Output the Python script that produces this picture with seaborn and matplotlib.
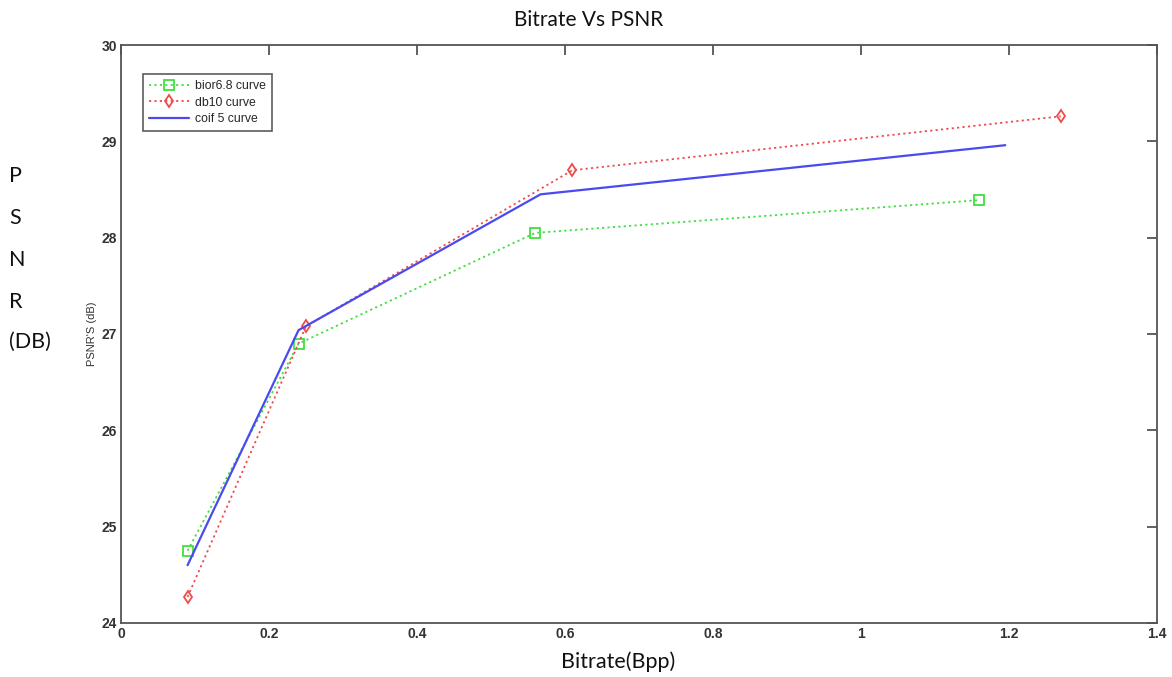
import pandas as pd
import matplotlib
matplotlib.use("Agg")
import matplotlib.pyplot as plt
import seaborn as sns

# values
bior_x = [0.09, 0.24, 0.56, 1.16]
bior_y = [24.75, 26.90, 28.05, 28.39]
db10_x = [0.09, 0.25, 0.61, 1.27]
db10_y = [24.27, 27.08, 28.70, 29.26]
coif_x = [0.09, 0.24, 0.567, 1.195]
coif_y = [24.60, 27.04, 28.45, 28.96]

x_ticks = [0, 0.2, 0.4, 0.6, 0.8, 1, 1.2, 1.4]
x_tick_labels = ["0", "0.2", "0.4", "0.6", "0.8", "1", "1.2", "1.4"]
y_ticks = [24, 25, 26, 27, 28, 29, 30]

sns.set_style("white")
plt.rcParams['font.family'] = ['Liberation Sans', 'DejaVu Sans']

fig = plt.figure(figsize=(11.72, 6.77), dpi=100)
ax = fig.add_axes([0.1032, 0.0798, 0.8840, 0.8537])

bior = pd.DataFrame({'x': bior_x, 'y': bior_y})
db10 = pd.DataFrame({'x': db10_x, 'y': db10_y})
coif = pd.DataFrame({'x': coif_x, 'y': coif_y})

sns.lineplot(data=bior, x='x', y='y', ax=ax, color='#3fe03f', linestyle=(0, (1.2, 1.8)),
             linewidth=1.3, marker='s', markersize=6.5, mfc='none', mec='#3fe03f', mew=1.3,
             label='bior6.8 curve')
sns.lineplot(data=db10, x='x', y='y', ax=ax, color='#f24a4a', linestyle=(0, (1.2, 1.8)),
             linewidth=1.3, marker='d', markersize=6, mfc='none', mec='#f24a4a', mew=1.3,
             label='db10 curve')
sns.lineplot(data=coif, x='x', y='y', ax=ax, color='#4a4af0', linewidth=1.6,
             label='coif 5 curve')

ax.set_xlim(0, 1.4)
ax.set_ylim(24, 30)
ax.set_xticks(x_ticks)
ax.set_xticklabels(x_tick_labels)
ax.set_yticks(y_ticks)

for s in ax.spines.values():
    s.set_visible(True)
    s.set_color('#555555')
    s.set_linewidth(1.3)

ax.tick_params(direction='in', length=7, width=1.3, color='#555555',
               top=True, right=True, labelsize=10, labelcolor='#333333', pad=3)
for lab in ax.get_xticklabels() + ax.get_yticklabels():
    lab.set_fontweight('bold')

ax.set_xlabel('')
ax.set_ylabel("PSNR'S (dB)", fontsize=8, color='#333333', labelpad=3)

leg = ax.legend(loc='upper left', bbox_to_anchor=(0.015, 0.96), fontsize=8.8,
                handlelength=3.3, frameon=True, fancybox=False, borderpad=0.5,
                labelspacing=0.35, handletextpad=0.45)
leg.get_frame().set_edgecolor('#333333')
leg.get_frame().set_linewidth(1.2)

fig.text(0.502, 0.970, 'Bitrate Vs PSNR', ha='center', va='center', fontsize=15,
         family=['Lato', 'DejaVu Sans'], color='#111111')
fig.text(0.527, 0.022, 'Bitrate(Bpp)', ha='center', va='center', fontsize=15.5,
         family=['Lato', 'DejaVu Sans'], color='#111111')
for letter, ypix in zip(['P', 'S', 'N', 'R', '(DB)'], [176, 218, 260, 302, 342]):
    fig.text(0.008, 1 - ypix / 677, letter, ha='left', va='center', fontsize=15.5,
             family=['Lato', 'DejaVu Sans'], color='#111111')

fig.savefig('out.png', dpi=100, facecolor='white')
